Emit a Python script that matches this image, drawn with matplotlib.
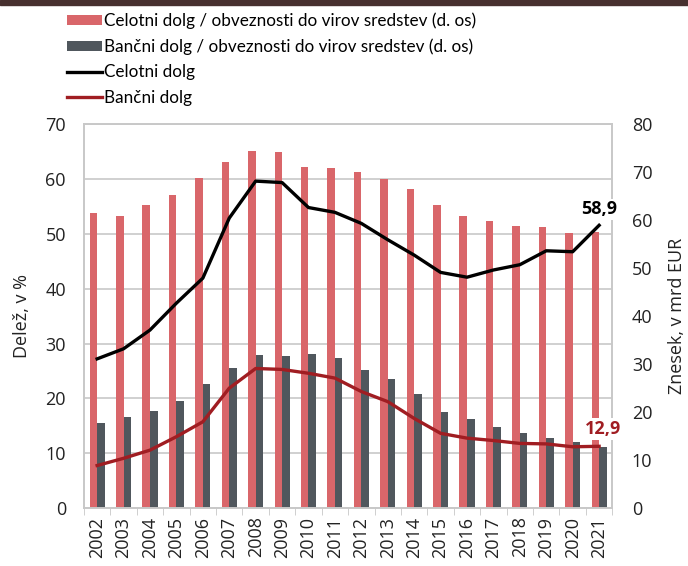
import numpy as np
import matplotlib
matplotlib.use("Agg")
import matplotlib.pyplot as plt
from matplotlib.patches import Rectangle

# ── Data ────────────────────────────────────────────────────────────────
years = [str(y) for y in range(2002, 2022)]
total_share = [53.7, 53.2, 55.3, 57.0, 60.1, 63.0, 65.1, 64.9, 62.2, 61.9,
               61.3, 60.0, 58.1, 55.3, 53.2, 52.4, 51.4, 51.2, 50.1, 50.4]
bank_share = [15.5, 16.6, 17.7, 19.6, 22.6, 25.6, 27.9, 27.7, 28.1, 27.3,
              25.2, 23.6, 20.8, 17.5, 16.2, 14.8, 13.7, 12.8, 12.0, 11.2]
total_debt = [31.1, 33.2, 37.1, 42.7, 47.9, 60.4, 68.1, 67.8, 62.6, 61.6,
              59.3, 55.9, 52.7, 49.1, 48.1, 49.6, 50.7, 53.6, 53.4, 58.9]
bank_debt = [8.9, 10.4, 12.1, 14.9, 18.0, 25.0, 29.1, 28.9, 28.1, 27.1,
             24.3, 22.2, 18.7, 15.6, 14.6, 14.1, 13.5, 13.4, 12.8, 12.9]

PINK = "#d9666a"
GREY = "#50575d"
RED = "#a01d22"
GRID = "#c8c8c8"

plt.rcParams["font.family"] = ["Open Sans", "DejaVu Sans"]

fig = plt.figure(figsize=(6.88, 5.66), dpi=100)
ax = fig.add_axes([0.122, 0.102, 0.768, 0.679])
ax2 = ax.twinx()

# dark strip along the top edge
fig.patches.append(Rectangle((0, 0.992), 1, 0.008, transform=fig.transFigure,
                             color="#47302f", zorder=0))

x = np.arange(len(years))
w = 0.285
ax.bar(x - w / 2, total_share, w, color=PINK, zorder=2,
       label="Celotni dolg / obveznosti do virov sredstev (d. os)")
ax.bar(x + w / 2, bank_share, w, color=GREY, zorder=2,
       label="Bančni dolg / obveznosti do virov sredstev (d. os)")

l1, = ax2.plot(x, total_debt, color="black", lw=2.4, label="Celotni dolg")
l2, = ax2.plot(x, bank_debt, color=RED, lw=2.4, label="Bančni dolg")

ax.set_xlim(-0.5, len(years) - 0.5)
ax.set_ylim(0, 70)
ax2.set_ylim(0, 80)
ax.set_yticks(range(0, 71, 10))
ax2.set_yticks(range(0, 81, 10))
ax.set_xticks(x)
ax.set_xticklabels(years, rotation=90)
ax.set_xticks(np.arange(-0.5, len(years), 1), minor=True)
ax.tick_params(axis="x", which="major", length=0, pad=6)
ax.tick_params(axis="x", which="minor", length=5, color=GRID)
ax.tick_params(axis="y", length=0, pad=13)
ax2.tick_params(axis="y", length=0, pad=14)
for a in (ax, ax2):
    a.tick_params(labelsize=13, labelcolor="#222")
    for sp in a.spines.values():
        sp.set_color(GRID)
        sp.set_linewidth(1.2)

ax.grid(axis="y", color=GRID, lw=1.2, zorder=0)
ax.set_axisbelow(True)

ax.set_ylabel("Delež, v %", fontsize=13, color="#222", labelpad=10)
ax2.set_ylabel("Znesek, v mrd EUR", fontsize=13, color="#222", labelpad=11)

# end labels
ax2.annotate("58,9", (x[-1], total_debt[-1]), xytext=(0, 5),
             textcoords="offset points", ha="center", va="bottom",
             fontsize=13, fontweight="bold", color="black", zorder=10,
             bbox=dict(boxstyle="square,pad=0.1", fc="white", ec="none"))
ax2.annotate("12,9", (x[-1], bank_debt[-1]), xytext=(3, 6),
             textcoords="offset points", ha="center", va="bottom",
             fontsize=13, fontweight="bold", color=RED, zorder=10,
             bbox=dict(boxstyle="square,pad=0.1", fc="white", ec="none"))

h1, lab1 = ax.get_legend_handles_labels()
fig.legend(h1 + [l1, l2], lab1 + [l1.get_label(), l2.get_label()],
           loc="upper left", bbox_to_anchor=(0.088, 0.99), frameon=False,
           prop={"family": ["Lato"], "size": 12.3},
           handlelength=2.0, handleheight=0.5,
           handletextpad=0.15, labelspacing=0.55, borderaxespad=0)

fig.savefig("out.png", dpi=100)
